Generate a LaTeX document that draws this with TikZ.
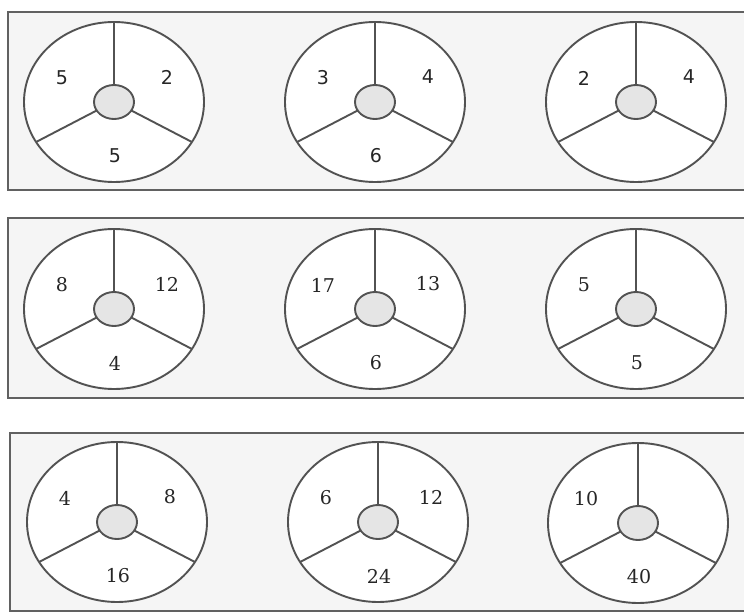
\documentclass[tikz,border=0pt]{standalone}
\usepackage{fontspec}
\usetikzlibrary{calc}
\newfontfamily\wheelsans{DejaVu Sans}
\newfontfamily\wheelserif{DejaVu Serif}

% one wheel: name, centre, left, right, bottom
\newcommand{\wheel}[5]{%
	\coordinate (#1) at #2;
	\draw[wheelline, fill=white] (#1) ellipse [x radius=90pt, y radius=80pt];
	\draw[wheelline] (#1) ++(90:20pt and 17pt) -- ++(90:70pt and 63pt);
	\draw[wheelline] (#1) ++(210:20pt and 17pt) -- ++(210:70pt and 63pt);
	\draw[wheelline] (#1) ++(330:20pt and 17pt) -- ++(330:70pt and 63pt);
	\draw[wheelline, fill=hubgray] (#1) ellipse [x radius=20pt, y radius=17pt];
	\node[wheelnum] (#1-left) at ($(#1)+(-52,-24)$) {#3};
	\node[wheelnum] (#1-right) at ($(#1)+(53,-25)$) {#4};
	\node[wheelnum] (#1-bottom) at ($(#1)+(1,54)$) {#5};
}

\begin{document}
\begin{tikzpicture}[x=1pt, y=-1pt,
	wheelline/.style={draw=black!68, line width=1.9pt},
	panel/.style={draw=black!62, line width=2.3pt, fill=black!4},
	wheelnum/.style={text=black!85, font=\wheelserif\fontsize{19}{19}\selectfont}]
	\colorlet{hubgray}{black!10}
	\useasboundingbox[fill=white] (0,0) rectangle (744,615);

	% top row
	\draw[panel] (8,12) rectangle (770,190);
	\begin{scope}[wheelnum/.style={text=black!85, font=\wheelsans\fontsize{19}{19}\selectfont}]
		\wheel{a1}{(114,102)}{5}{2}{5}
		\wheel{a2}{(375,102)}{3}{4}{6}
		\wheel{a3}{(636,102)}{2}{4}{}
	\end{scope}

	% middle row
	\draw[panel] (8,218) rectangle (770,398);
	\wheel{b1}{(114,309)}{8}{12}{4}
	\wheel{b2}{(375,309)}{17}{13}{6}
	\wheel{b3}{(636,309)}{5}{}{5}

	% bottom row
	\draw[panel] (10,433) rectangle (770,611);
	\wheel{c1}{(117,522)}{4}{8}{16}
	\wheel{c2}{(378,522)}{6}{12}{24}
	\wheel{c3}{(638,523)}{10}{}{40}
\end{tikzpicture}
\end{document}
